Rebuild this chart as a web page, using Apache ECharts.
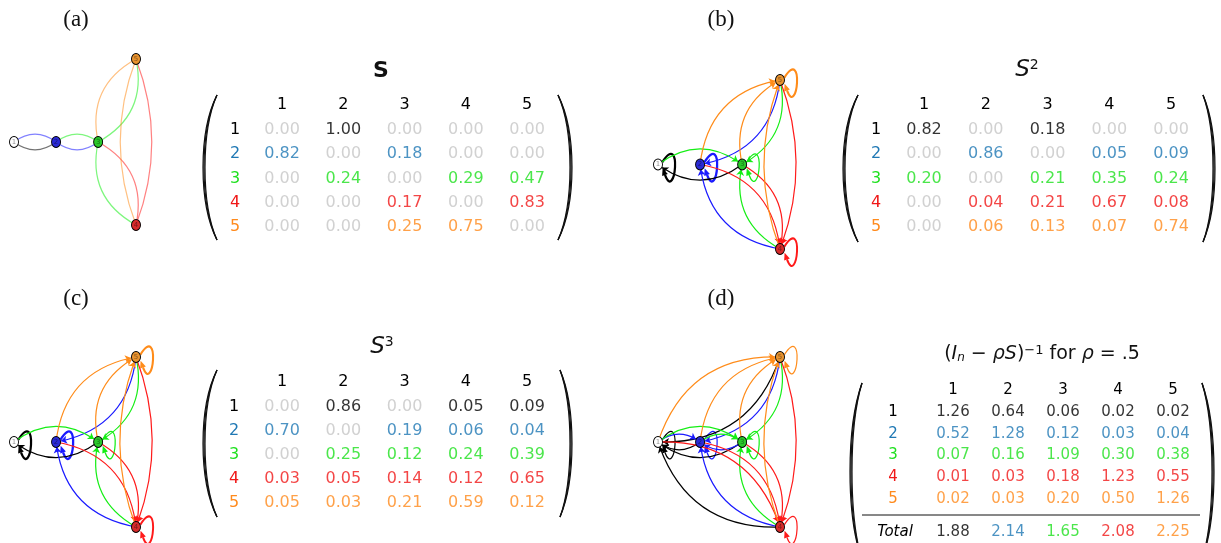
<!DOCTYPE html>
<html>
<head>
<meta charset="utf-8">
<script src="https://cdn.jsdelivr.net/npm/echarts@6/dist/echarts.min.js"></script>
<style>
  html, body { margin: 0; padding: 0; background: #fff; }
  #main { width: 1221px; height: 543px; }
</style>
</head>
<body>
<div id="main"></div>
<script>
// ---- data ----
var nodes = ['1', '2', '3', '4', '5'];
var nodeX = [0, 1, 2, 2.9, 2.9];
var nodeY = [0, 0, 0, -1, 1];

var matS = [
  [0.00, 1.00, 0.00, 0.00, 0.00],
  [0.82, 0.00, 0.18, 0.00, 0.00],
  [0.00, 0.24, 0.00, 0.29, 0.47],
  [0.00, 0.00, 0.17, 0.00, 0.83],
  [0.00, 0.00, 0.25, 0.75, 0.00]
];
var matS2 = [
  [0.82, 0.00, 0.18, 0.00, 0.00],
  [0.00, 0.86, 0.00, 0.05, 0.09],
  [0.20, 0.00, 0.21, 0.35, 0.24],
  [0.00, 0.04, 0.21, 0.67, 0.08],
  [0.00, 0.06, 0.13, 0.07, 0.74]
];
var matS3 = [
  [0.00, 0.86, 0.00, 0.05, 0.09],
  [0.70, 0.00, 0.19, 0.06, 0.04],
  [0.00, 0.25, 0.12, 0.24, 0.39],
  [0.03, 0.05, 0.14, 0.12, 0.65],
  [0.05, 0.03, 0.21, 0.59, 0.12]
];
var matInv = [
  [1.26, 0.64, 0.06, 0.02, 0.02],
  [0.52, 1.28, 0.12, 0.03, 0.04],
  [0.07, 0.16, 1.09, 0.30, 0.38],
  [0.01, 0.03, 0.18, 1.23, 0.55],
  [0.02, 0.03, 0.20, 0.50, 1.26]
];
var invTotals = [1.88, 2.14, 1.65, 2.08, 2.25];

// ---- styles ----
var FONT = 'DejaVu Sans';
var textColors = ['#000000', '#1f78b4', '#1ee01e', '#f01818', '#ff8a1c'];
var zeroGray = '#c6c6c6';
var edgeColors = ['#000000', '#1a1aff', '#14ee14', '#ff1a1a', '#ff8c1a'];
var nodeColors = ['#ffffff', '#2a2ad6', '#2ac82a', '#d62a2a', '#e8922e'];

// graph panels (the (c) graph in the figure shows the same edges as (b))
var graphPanels = [
  {mat: matS, box: [14, 59, 122, 166], arrows: false, opacity: 0.55, loopMode: 'flat'},
  {mat: matS2, box: [658, 80, 122, 169], arrows: true, opacity: 1, loopMode: 'weight'},
  {mat: matS2, box: [14, 357, 122, 170], arrows: true, opacity: 1, loopMode: 'weight'},
  {mat: matInv, box: [658, 357, 122, 170], arrows: true, opacity: 1, loopMode: 'flat'}
];

var matrixPanels = [
  {mat: matS, box: [251.4, 117.9, 306.3, 121.3], font: 16, hdr: 5, rowM: 16.4},
  {mat: matS2, box: [893.1, 117.9, 308.8, 121.3], font: 16, hdr: 5, rowM: 17.1},
  {mat: matS3, box: [251.4, 395, 306.3, 120], font: 16, hdr: 5, rowM: 17.4},
  {mat: matInv, box: [925.5, 401.1, 275, 108.75], font: 15, hdr: 3.6, rowM: 32.5}
];

var chart = echarts.init(document.getElementById('main'));

var grid = [], xAxis = [], yAxis = [], series = [];

function loopRenderer(mode) {
  return function (params, api) {
    var p = api.coord([api.value(0), api.value(1)]);
    var w = api.value(2), idx = api.value(3);
    var col = edgeColors[idx];
    var lw = mode === 'weight' ? 0.9 + 1.6 * w : 1.2;
    var d = 0.1, r = 5, L = 42, sp = 1.05, ep = 0.6;
    var P0 = [p[0] + r * Math.cos(d - ep), p[1] + r * Math.sin(d - ep)];
    var C1 = [p[0] + L * Math.cos(d - sp), p[1] + L * Math.sin(d - sp)];
    var C2 = [p[0] + L * Math.cos(d + sp), p[1] + L * Math.sin(d + sp)];
    var P3 = [p[0] + (r + 1) * Math.cos(d + ep), p[1] + (r + 1) * Math.sin(d + ep)];
    var dx = P3[0] - C2[0], dy = P3[1] - C2[1];
    var len = Math.sqrt(dx * dx + dy * dy);
    dx /= len; dy /= len;
    var a = 7, b = 3;
    var base = [P3[0] - dx * a, P3[1] - dy * a];
    return {
      type: 'group',
      children: [{
        type: 'bezierCurve',
        shape: {x1: P0[0], y1: P0[1], cpx1: C1[0], cpy1: C1[1], cpx2: C2[0], cpy2: C2[1], x2: base[0], y2: base[1]},
        style: {stroke: col, lineWidth: lw, fill: 'none'}
      }, {
        type: 'polygon',
        shape: {points: [P3, [base[0] - dy * b, base[1] + dx * b], [base[0] + dy * b, base[1] - dx * b]]},
        style: {fill: col}
      }]
    };
  };
}

graphPanels.forEach(function (p, k) {
  grid.push({left: p.box[0], top: p.box[1], width: p.box[2], height: p.box[3], outerBoundsMode: 'none'});
  xAxis.push({type: 'value', gridIndex: k, min: 0, max: 2.9, show: false});
  yAxis.push({type: 'value', gridIndex: k, min: -1, max: 1, show: false});
  var links = [], loops = [];
  p.mat.forEach(function (row, i) {
    row.forEach(function (v, j) {
      if (v <= 0) return;
      if (i === j) { loops.push([nodeX[i], nodeY[i], v, i]); return; }
      var pair45 = i >= 3 && j >= 3;
      links.push({
        source: nodes[j],
        target: nodes[i],
        lineStyle: {color: edgeColors[i], curveness: pair45 ? 0.19 : 0.37}
      });
    });
  });
  if (loops.length) {
    series.push({
      type: 'custom',
      coordinateSystem: 'cartesian2d',
      xAxisIndex: k,
      yAxisIndex: k,
      silent: true,
      z: 1,
      renderItem: loopRenderer(p.loopMode),
      data: loops
    });
  }
  series.push({
    type: 'graph',
    coordinateSystem: 'cartesian2d',
    xAxisIndex: k,
    yAxisIndex: k,
    silent: true,
    z: 2,
    symbol: 'circle',
    symbolSize: [9, 11],
    edgeSymbol: p.arrows ? ['none', 'arrow'] : ['none', 'none'],
    edgeSymbolSize: 6,
    itemStyle: {borderColor: '#000', borderWidth: 1},
    label: {show: true, position: 'inside', fontSize: 7, fontFamily: FONT, color: 'rgba(0,0,0,0.45)'},
    lineStyle: {width: 1.2, opacity: p.opacity},
    data: nodes.map(function (n, i) {
      return {name: n, value: [nodeX[i], nodeY[i]], itemStyle: {color: nodeColors[i]}};
    }),
    links: links
  });
});

function addMatrixGrid(box, font, hdr, rowM, rowNames, rowColors, showHeader, italicRows) {
  var g = grid.length;
  grid.push({left: box[0], top: box[1], width: box[2], height: box[3], outerBoundsMode: 'none'});
  xAxis.push({
    type: 'category', gridIndex: g, data: nodes, position: 'top',
    axisLine: {show: false}, axisTick: {show: false}, splitLine: {show: false},
    axisLabel: {show: showHeader, interval: 0, margin: hdr, fontSize: font, fontFamily: FONT, color: '#000'}
  });
  yAxis.push({
    type: 'category', gridIndex: g, data: rowNames, inverse: true,
    axisLine: {show: false}, axisTick: {show: false}, splitLine: {show: false},
    axisLabel: {
      interval: 0, margin: rowM, align: 'center', fontSize: font, fontFamily: FONT,
      fontStyle: italicRows ? 'italic' : 'normal',
      color: function (val, idx) { return rowColors[rowNames.indexOf(val)]; }
    }
  });
  return g;
}

function cellSeries(g, font, cells) {
  return {
    type: 'scatter', xAxisIndex: g, yAxisIndex: g, silent: true,
    symbolSize: 1, itemStyle: {color: 'rgba(0,0,0,0)'},
    label: {
      show: true, position: 'inside', fontSize: font, fontFamily: FONT,
      formatter: function (prm) { return prm.value[2].toFixed(2); }
    },
    data: cells
  };
}

matrixPanels.forEach(function (m) {
  var g = addMatrixGrid(m.box, m.font, m.hdr, m.rowM, nodes, textColors, true, false);
  var cells = [];
  m.mat.forEach(function (row, i) {
    row.forEach(function (v, j) {
      cells.push({value: [j, i, v], label: {color: v > 0 ? textColors[i] : zeroGray}});
    });
  });
  series.push(cellSeries(g, m.font, cells));
});

// Total row under the (d) matrix, coloured by column
var gt = addMatrixGrid([925.5, 521.1, 275, 21.75], 15, 3, 30.5, ['Total'], ['#000'], false, true);
series.push(cellSeries(gt, 15, invTotals.map(function (v, j) {
  return {value: [j, 0, v], label: {color: textColors[j]}};
})));

// ---- text and decorations ----
var graphic = [];
[['(a)', 76, 20], ['(b)', 721, 20], ['(c)', 76, 299], ['(d)', 721, 299]].forEach(function (t) {
  graphic.push({type: 'text', x: t[1], y: t[2], style: {
    text: t[0], fontFamily: 'Liberation Serif', fontSize: 23, fill: '#111', align: 'center', verticalAlign: 'middle'}});
});

var supRich = {
  i: {fontFamily: FONT, fontStyle: 'italic', fontSize: 23, fill: '#111'},
  s: {fontFamily: FONT, fontSize: 14, fill: '#111', verticalAlign: 'top'}
};
graphic.push({type: 'text', x: 381, y: 71, style: {
  text: 'S', fontFamily: FONT, fontWeight: 'bold', fontSize: 22, fill: '#111', align: 'center', verticalAlign: 'middle'}});
graphic.push({type: 'text', x: 1027, y: 70, style: {
  text: '{i|S}{s|2}', rich: supRich, align: 'center', verticalAlign: 'middle'}});
graphic.push({type: 'text', x: 382, y: 347, style: {
  text: '{i|S}{s|3}', rich: supRich, align: 'center', verticalAlign: 'middle'}});
graphic.push({type: 'text', x: 1042, y: 354, style: {
  text: '({i|I}{b|n} − {i|ρS}){s|−1} for {i|ρ} = .5',
  fontFamily: FONT, fontSize: 19, fill: '#111', align: 'center', verticalAlign: 'middle',
  rich: {
    i: {fontFamily: FONT, fontStyle: 'italic', fontSize: 19, fill: '#111'},
    b: {fontFamily: FONT, fontStyle: 'italic', fontSize: 12, fill: '#111', verticalAlign: 'bottom', padding: [7, 0, 0, 0]},
    s: {fontFamily: FONT, fontSize: 13, fill: '#111', verticalAlign: 'top', padding: [0, 0, 7, 0]}
  }
}});

function paren(xEnd, xMid, y0, y1) {
  var h = y1 - y0, sgn = xEnd > xMid ? 1 : -1;
  [0, 1, 2].forEach(function (t) {
    var mid = xMid + sgn * t * 1.0;
    var cpx = (mid - 0.25 * xEnd) / 0.75;
    graphic.push({type: 'bezierCurve', silent: true, shape: {
      x1: xEnd, y1: y0, cpx1: cpx, cpy1: y0 + 0.25 * h, cpx2: cpx, cpy2: y1 - 0.25 * h, x2: xEnd, y2: y1
    }, style: {stroke: '#111', lineWidth: 1.2, fill: 'none'}});
  });
}
paren(217, 203, 95, 240); paren(558, 572, 95, 240);
paren(858, 843, 95, 242); paren(1203, 1215, 95, 242);
paren(217, 203, 370, 517); paren(560, 572, 370, 517);
paren(862, 850, 383, 560); paren(1202, 1214, 383, 560);

graphic.push({type: 'line', silent: true, shape: {x1: 862, y1: 515, x2: 1200, y2: 515},
  style: {stroke: '#111', lineWidth: 1}});

chart.setOption({
  animation: false,
  grid: grid,
  xAxis: xAxis,
  yAxis: yAxis,
  series: series,
  graphic: graphic
});
</script>
</body>
</html>
